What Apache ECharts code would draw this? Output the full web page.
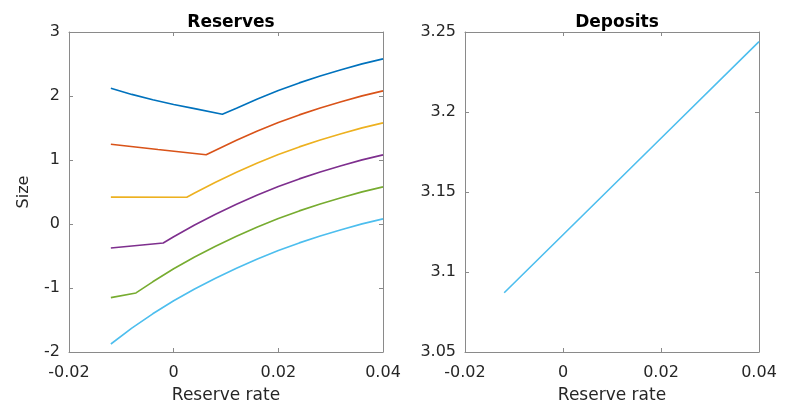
<!DOCTYPE html>
<html>
<head>
<meta charset="utf-8">
<script src="https://cdn.jsdelivr.net/npm/echarts@6/dist/echarts.min.js"></script>
<style>html,body{margin:0;padding:0;background:#fff}#c{width:785px;height:405px}</style>
</head>
<body>
<div id="c"></div>
<script>
// ---- data ----
const xTicks = [-0.02, 0, 0.02, 0.04];
const reservesYTicks = [-2, -1, 0, 1, 2, 3];
const depositsYTicks = [3.05, 3.1, 3.15, 3.2, 3.25];

const blueX   = [-0.012, -0.008, -0.004, 0, 0.004, 0.0093, 0.012, 0.016, 0.020, 0.024, 0.028, 0.032, 0.036, 0.040];
const blueY   = [2.12, 2.025, 1.942, 1.868, 1.803, 1.714, 1.809, 1.953, 2.085, 2.205, 2.313, 2.411, 2.502, 2.58];
const redX    = [-0.012, -0.003, 0.0062, 0.008, 0.012, 0.016, 0.020, 0.024, 0.028, 0.032, 0.036, 0.040];
const redY    = [1.245, 1.163, 1.083, 1.153, 1.309, 1.453, 1.585, 1.705, 1.813, 1.911, 2.002, 2.08];
const yellowX = [-0.012, 0.0025, 0.004, 0.008, 0.012, 0.016, 0.020, 0.024, 0.028, 0.032, 0.036, 0.040];
const yellowY = [0.42, 0.418, 0.485, 0.653, 0.809, 0.953, 1.085, 1.205, 1.313, 1.411, 1.502, 1.58];
const purpleX = [-0.012, -0.002, 0, 0.004, 0.008, 0.012, 0.016, 0.020, 0.024, 0.028, 0.032, 0.036, 0.040];
const purpleY = [-0.375, -0.297, -0.199, -0.015, 0.153, 0.309, 0.453, 0.585, 0.705, 0.813, 0.911, 1.002, 1.08];
const greenX  = [-0.012, -0.0072, -0.004, 0, 0.004, 0.008, 0.012, 0.016, 0.020, 0.024, 0.028, 0.032, 0.036, 0.040];
const greenY  = [-1.15, -1.077, -0.903, -0.699, -0.515, -0.347, -0.191, -0.047, 0.085, 0.205, 0.313, 0.411, 0.502, 0.58];
const cyanX   = [-0.012, -0.008, -0.004, 0, 0.004, 0.008, 0.012, 0.016, 0.020, 0.024, 0.028, 0.032, 0.036, 0.040];
const cyanY   = [-1.875, -1.627, -1.403, -1.199, -1.015, -0.847, -0.691, -0.547, -0.415, -0.295, -0.187, -0.089, 0.002, 0.08];

const depositsX = [-0.012, 0.004, 0.020, 0.040];
const depositsY = [3.0870, 3.1353, 3.1836, 3.2440];

const colors = ['#0072BD', '#D95319', '#EDB120', '#7E2F8E', '#77AC30', '#4DBEEE'];

// ---- chart ----
const FONT = 'DejaVu Sans';
const TXT = '#262626';
const AX = '#8a8a8a';
const pairs = (xs, ys) => xs.map((x, i) => [x, ys[i]]);
const fmt = v => String(parseFloat(v.toFixed(4)));

function xAxes(gi) {
  const base = {
    type: 'value', gridIndex: gi, min: xTicks[0], max: xTicks[xTicks.length - 1],
    interval: xTicks[1] - xTicks[0],
    axisLine: { onZero: false, lineStyle: { color: AX, width: 1 } },
    axisTick: { inside: true, length: 4, lineStyle: { color: AX } },
    splitLine: { show: false }
  };
  return [
    Object.assign({}, base, {
      position: 'bottom',
      name: 'Reserve rate', nameLocation: 'middle', nameGap: 35,
      nameTextStyle: { fontFamily: FONT, fontSize: 17, color: TXT },
      axisLabel: { fontFamily: FONT, fontSize: 16, color: TXT, margin: 13, formatter: fmt }
    }),
    Object.assign({}, base, { position: 'top', axisLabel: { show: false } })
  ];
}
function yAxes(gi, ticks, name) {
  const base = {
    type: 'value', gridIndex: gi, min: ticks[0], max: ticks[ticks.length - 1],
    interval: ticks[1] - ticks[0],
    axisLine: { show: true, onZero: false, lineStyle: { color: AX, width: 1 } },
    axisTick: { show: true, inside: true, length: 4, lineStyle: { color: AX } },
    splitLine: { show: false }
  };
  const left = Object.assign({}, base, {
    position: 'left',
    axisLabel: { fontFamily: FONT, fontSize: 16, color: TXT, margin: 9, formatter: fmt }
  });
  if (name) {
    left.name = name; left.nameLocation = 'middle'; left.nameGap = 37; left.nameRotate = 90;
    left.nameTextStyle = { fontFamily: FONT, fontSize: 16, color: TXT };
  }
  return [left, Object.assign({}, base, { position: 'right', axisLabel: { show: false } })];
}

const leftX = xAxes(0), rightX = xAxes(1);
const leftY = yAxes(0, reservesYTicks, 'Size'), rightY = yAxes(1, depositsYTicks, null);

const reserveSeries = [
  [blueX, blueY], [redX, redY], [yellowX, yellowY],
  [purpleX, purpleY], [greenX, greenY], [cyanX, cyanY]
].map((s, i) => ({
  type: 'line', xAxisIndex: 0, yAxisIndex: 0, data: pairs(s[0], s[1]),
  showSymbol: false, symbol: 'none', smooth: false,
  lineStyle: { color: colors[i], width: 1.6 }, animation: false
}));

const chart = echarts.init(document.getElementById('c'), null, { renderer: 'canvas' });
chart.setOption({
  animation: false,
  backgroundColor: '#ffffff',
  title: [
    { text: 'Reserves', left: 226, top: 9, textAlign: 'center',
      textStyle: { fontFamily: FONT, fontSize: 17, fontWeight: 'bold', color: '#000' } },
    { text: 'Deposits', left: 612, top: 9, textAlign: 'center',
      textStyle: { fontFamily: FONT, fontSize: 17, fontWeight: 'bold', color: '#000' } }
  ],
  grid: [
    { left: 69, right: 402, top: 32, bottom: 53, containLabel: false, outerBoundsMode: 'none' },
    { left: 465, right: 26, top: 32, bottom: 53, containLabel: false, outerBoundsMode: 'none' }
  ],
  xAxis: [leftX[0], leftX[1], rightX[0], rightX[1]],
  yAxis: [leftY[0], leftY[1], rightY[0], rightY[1]],
  series: reserveSeries.concat([{
    type: 'line', xAxisIndex: 2, yAxisIndex: 2, data: pairs(depositsX, depositsY),
    showSymbol: false, symbol: 'none',
    lineStyle: { color: colors[5], width: 1.6 }, animation: false
  }])
});
</script>
</body>
</html>
